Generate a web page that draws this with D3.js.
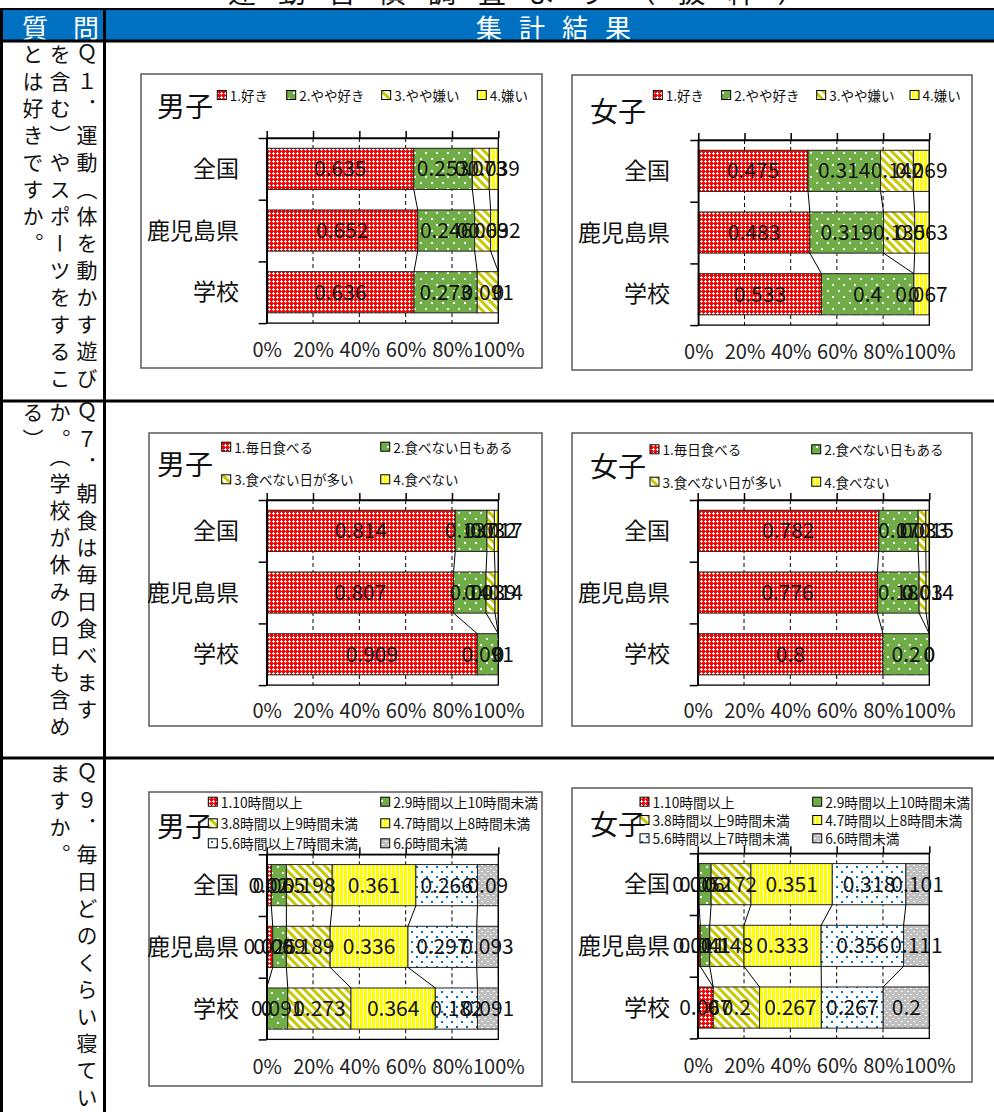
<!DOCTYPE html>
<html><head><meta charset="utf-8">
<script src="https://cdn.jsdelivr.net/npm/d3@7"></script>
<style>
body{margin:0;background:#fff;}
#wrap{position:relative;width:994px;height:1112px;overflow:hidden;}
.q{position:absolute;writing-mode:vertical-rl;text-orientation:upright;font-family:"Noto Sans CJK JP";font-size:21px;letter-spacing:6px;line-height:27px;color:#111;}
</style></head>
<body><div id="wrap"></div>
<script>
// ---------- data ----------
const categories = ["全国","鹿児島県","学校"];
const xTicks = [0,0.2,0.4,0.6,0.8,1];
const xTickLabels = ["0%","20%","40%","60%","80%","100%"];

const q1Series = ["1.好き","2.やや好き","3.やや嫌い","4.嫌い"];
const q1Male   = [[0.635,0.253,0.073,0.039],[0.652,0.246,0.069,0.032],[0.636,0.273,0.091,0]];
const q1Female = [[0.475,0.314,0.142,0.069],[0.483,0.319,0.135,0.063],[0.533,0.4,0,0.067]];

const q7Series = ["1.毎日食べる","2.食べない日もある","3.食べない日が多い","4.食べない"];
const q7Male   = [[0.814,0.137,0.032,0.017],[0.807,0.14,0.039,0.014],[0.909,0.091,0,0]];
const q7Female = [[0.782,0.17,0.033,0.015],[0.776,0.18,0.03,0.014],[0.8,0.2,0,0]];

const q9Series = ["1.10時間以上","2.9時間以上10時間未満","3.8時間以上9時間未満","4.7時間以上8時間未満","5.6時間以上7時間未満","6.6時間未満"];
const q9Male   = [[0.02,0.065,0.198,0.361,0.266,0.09],[0.026,0.059,0.189,0.336,0.297,0.093],[0,0.091,0.273,0.364,0.182,0.091]];
const q9Female = [[0.006,0.052,0.172,0.351,0.318,0.101],[0.011,0.041,0.148,0.333,0.356,0.111],[0.067,0,0.2,0.267,0.267,0.2]];

const questions = ["Ｑ１．運動（体を動かす遊びを含む）やスポーツをすることは好きですか。",
  "Ｑ７．朝食は毎日食べますか。（学校が休みの日も含める）",
  "Ｑ９．毎日どのくらい寝ていますか。"];
const titleText = "運動習慣調査より（抜粋）";

// ---------- page ----------
const W=994,H=1112;
const wrap=d3.select("#wrap");
const svg=wrap.append("svg").attr("width",W).attr("height",H).style("position","absolute").style("left",0).style("top",0)
  .attr("shape-rendering","auto");
const defs=svg.append("defs");
const FONT='"Noto Sans CJK JP", "Noto Sans", sans-serif';

// patterns
function pat(id,w,h,bg,items,transform,crisp){
  const p=defs.append("pattern").attr("id",id).attr("patternUnits","userSpaceOnUse").attr("width",w).attr("height",h);
  if(transform) p.attr("patternTransform",transform);
  p.append("rect").attr("width",w).attr("height",h).attr("fill",bg);
  items.forEach(it=>p.append("rect").attr("x",it[0]).attr("y",it[1]).attr("width",it[2]).attr("height",it[3]).attr("fill",it[4])
    .attr("shape-rendering",crisp?"crispEdges":"auto"));
}
pat("p0",4,4,"#FF0000",[[1,0,1,1,"#fff"],[0,1,3,1,"#fff"],[1,2,1,1,"#fff"]],null,true);
pat("p1",11,12,"#70AD47",[[2,2,2,2,"#fff"],[7,8,2,2,"#fff"]],null,true);
pat("p2",6,6,"#ffffff",[[0,0,3,6,"#C8C800"]],"rotate(-45)");
pat("p3",4,4,"#FFFF00",[[3,0,1,4,"#ffffff"]],null,true);
pat("p4",10,10,"#ffffff",[[1,1,2,2,"#0070C0"],[6,6,2,2,"#0070C0"]],null,true);
pat("p5",6,6,"#BFBFBF",[[1,1,2,1,"#fff"],[4,4,2,1,"#fff"]],null,true);
const fills=["url(#p0)","url(#p1)","url(#p2)","url(#p3)","url(#p4)","url(#p5)"];

// title (clipped at top)
svg.append("text").attr("x",228).attr("y",3).attr("font-family",FONT).attr("font-size",28)
  .attr("letter-spacing",22).attr("fill","#111").text(titleText);

// header
svg.append("rect").attr("x",0).attr("y",9).attr("width",W).attr("height",33).attr("fill","#0070C0");
svg.append("text").attr("x",22).attr("y",26).attr("dominant-baseline","central").attr("font-family",FONT)
  .attr("font-size",26).attr("letter-spacing",25).attr("fill","#fff").text("質問");
svg.append("text").attr("x",476).attr("y",26).attr("dominant-baseline","central").attr("font-family",FONT)
  .attr("font-size",26).attr("letter-spacing",17).attr("fill","#fff").text("集計結果");

// grid lines of the table
const hl=[9,41,401,758];
hl.forEach(y=>svg.append("line").attr("x1",0).attr("x2",W).attr("y1",y).attr("y2",y).attr("stroke","#000").attr("stroke-width",y===9?2:3));
svg.append("line").attr("x1",1.5).attr("x2",1.5).attr("y1",9).attr("y2",H).attr("stroke","#000").attr("stroke-width",3);
svg.append("line").attr("x1",104.5).attr("x2",104.5).attr("y1",9).attr("y2",H).attr("stroke","#000").attr("stroke-width",3);

// question texts
const qTops=[44,402,763];
questions.forEach((t,i)=>{
  wrap.append("div").attr("class","q").style("left","18px").style("top",qTops[i]+"px")
    .style("width","82px").style("height","360px").text(t);
});

// ---------- charts ----------
function drawChart(cfg){
  const g=svg.append("g");
  const [bx0,by0,bx1,by1]=cfg.box;
  g.append("rect").attr("x",bx0).attr("y",by0).attr("width",bx1-bx0).attr("height",by1-by0)
    .attr("fill","#fff").attr("stroke","#595959").attr("stroke-width",1.5);
  const step=61.7;
  const plotB=cfg.plotT+3*step;
  const x=d3.scaleLinear().domain([0,1]).range([cfg.plotL,cfg.plotR]);
  const y=d3.scaleBand().domain(categories).range([cfg.plotT,plotB]).paddingInner(1/3).paddingOuter(1/6);
  const yEdge=d3.scaleLinear().domain([0,3]).range([cfg.plotT,plotB]);

  // dashed gridlines
  g.selectAll(".grid").data(xTicks.slice(1,-1)).join("line")
    .attr("x1",d=>x(d)).attr("x2",d=>x(d)).attr("y1",cfg.plotT).attr("y2",plotB)
    .attr("stroke","#000").attr("stroke-width",1).attr("stroke-dasharray","4,3");

  // stacked bars
  const rows=cfg.data.map((vals,j)=>{
    let c=0; return vals.map((v,i)=>{const s={cat:categories[j],i,v,x0:c,x1:c+v}; c+=v; return s;});
  });
  rows.forEach(segs=>{
    g.selectAll(null).data(segs).join("rect")
      .attr("x",d=>x(d.x0)).attr("y",d=>y(d.cat)).attr("width",d=>x(d.x1)-x(d.x0)).attr("height",y.bandwidth())
      .attr("fill",d=>fills[d.i]).attr("stroke","#222").attr("stroke-width",1);
  });
  // series lines
  for(let j=0;j<rows.length-1;j++){
    rows[j].forEach((s,i)=>{
      const n=rows[j+1][i];
      g.append("line").attr("x1",x(s.x1)).attr("y1",y(s.cat)+y.bandwidth())
        .attr("x2",x(n.x1)).attr("y2",y(n.cat)).attr("stroke","#000").attr("stroke-width",1);
    });
  }
  // plot border
  g.append("rect").attr("x",cfg.plotL).attr("y",cfg.plotT).attr("width",cfg.plotR-cfg.plotL).attr("height",plotB-cfg.plotT)
    .attr("fill","none").attr("stroke","#000").attr("stroke-width",1.3);
  // top axis ticks
  const ta=g.append("g").attr("transform",`translate(0,${cfg.plotT})`)
    .call(d3.axisTop(x).tickValues(xTicks).tickSize(7).tickSizeOuter(0).tickFormat(""));
  ta.selectAll("path,line").attr("stroke","#000").attr("stroke-width",1.5);
  // left axis ticks
  const la=g.append("g").attr("transform",`translate(${cfg.plotL},0)`)
    .call(d3.axisLeft(yEdge).tickValues([0,1,2,3]).tickSize(8).tickSizeOuter(0).tickFormat(""));
  la.selectAll("path,line").attr("stroke","#000").attr("stroke-width",1.5);
  // bottom labels
  const ba=g.append("g").attr("transform",`translate(0,${cfg.xLabelY})`)
    .call(d3.axisBottom(x).tickValues(xTicks).tickSize(0).tickPadding(0).tickFormat((d,i)=>xTickLabels[i]));
  ba.select(".domain").remove();
  ba.selectAll("text").attr("y",0).attr("dy","0.35em").attr("font-family",FONT).attr("font-size",20).attr("fill","#222");
  // category labels
  g.selectAll(".cat").data(categories).join("text")
    .attr("x",cfg.catX).attr("y",d=>y(d)+y.bandwidth()/2).attr("dy","0.35em").attr("text-anchor","end")
    .attr("font-family",FONT).attr("font-size",23).attr("fill","#111").text(d=>d);
  // data labels
  rows.forEach(segs=>{
    g.selectAll(null).data(segs).join("text")
      .attr("x",d=>x(d.x0+d.v/2)).attr("y",d=>y(d.cat)+y.bandwidth()/2).attr("dy","0.35em")
      .attr("text-anchor","middle").attr("font-family",FONT).attr("font-size",21).attr("fill","#111")
      .text(d=>String(d.v));
  });
  // gender
  g.append("text").attr("x",cfg.gx).attr("y",cfg.gy).attr("dominant-baseline","central")
    .attr("font-family",FONT).attr("font-size",28).attr("fill","#111").text(cfg.gender);
  // legend
  cfg.series.forEach((s,i)=>{
    const p=cfg.leg[i];
    g.append("rect").attr("x",p[0]).attr("y",p[1]-4.5).attr("width",9).attr("height",9)
      .attr("fill",fills[i]).attr("stroke","#000").attr("stroke-width",1);
    g.append("text").attr("x",p[0]+12.5).attr("y",p[1]).attr("dominant-baseline","central")
      .attr("font-family",FONT).attr("font-size",cfg.legFont).attr("fill","#111").text(s);
  });
}

drawChart({box:[141,74,542,368],plotL:266.7,plotR:498.3,plotT:138,xLabelY:350,catX:239,
  gender:"男子",gx:157,gy:105,series:q1Series,data:q1Male,legFont:13.5,
  leg:[[217.3,95],[286.7,95],[381.7,95],[477.3,95]]});
drawChart({box:[572,75,972,370],plotL:698.3,plotR:929.3,plotT:140,xLabelY:352,catX:670,
  gender:"女子",gx:590,gy:110,series:q1Series,data:q1Female,legFont:13.5,
  leg:[[653.3,95],[721.7,95],[816.7,95],[910,95]]});
drawChart({box:[149,433,542,726],plotL:266.7,plotR:498.3,plotT:500,xLabelY:711,catX:239,
  gender:"男子",gx:157,gy:463,series:q7Series,data:q7Male,legFont:13.5,
  leg:[[221.7,446.7],[380.7,446.7],[221.7,479.3],[380.7,479.3]]});
drawChart({box:[572,433,972,726],plotL:697.7,plotR:929.3,plotT:500,xLabelY:711,catX:670,
  gender:"女子",gx:590,gy:465,series:q7Series,data:q7Female,legFont:13.5,
  leg:[[650,449.3],[811.7,449.3],[650,481.7],[811.7,481.7]]});
drawChart({box:[149,792,542,1086],plotL:266.7,plotR:498.3,plotT:854.3,xLabelY:1067,catX:239,
  gender:"男子",gx:157,gy:825,series:q9Series,data:q9Male,legFont:13.8,
  leg:[[208.3,801.7],[380.7,801.7],[208.3,823.3],[380.7,823.3],[208.3,843.3],[380.7,843.3]]});
drawChart({box:[572,788,972,1082],plotL:697.7,plotR:929.3,plotT:853.3,xLabelY:1066,catX:670,
  gender:"女子",gx:590,gy:823,series:q9Series,data:q9Female,legFont:13.8,
  leg:[[640,801.7],[812.7,801.7],[640,820],[812.7,820],[640,838.3],[812.7,838.3]]});
</script>
</body></html>
